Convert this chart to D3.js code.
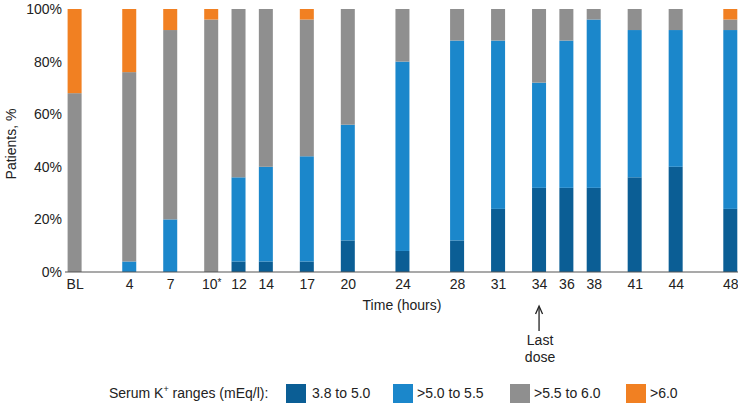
<!DOCTYPE html>
<html>
<head>
<meta charset="utf-8">
<script src="https://cdn.jsdelivr.net/npm/d3@7"></script>
<style>
  body { margin: 0; background: #fff; }
  svg { display: block; font-family: "Liberation Sans", Arial, sans-serif; }
  .axis text { font-size: 14px; fill: #222; }
</style>
</head>
<body>
<div id="chart"></div>
<script>
//Data
const times = [0, 4, 7, 10, 12, 14, 17, 20, 24, 28, 31, 34, 36, 38, 41, 44, 48];
const timeLabels = ['BL', '4', '7', '10*', '12', '14', '17', '20', '24', '28', '31', '34', '36', '38', '41', '44', '48'];
const range38to50 = [0, 0, 0, 0, 4, 4, 4, 12, 8, 12, 24, 32, 32, 32, 36, 40, 24];
const range50to55 = [0, 4, 20, 0, 32, 36, 40, 44, 72, 76, 64, 40, 56, 64, 56, 52, 68];
const range55to60 = [68, 72, 72, 96, 64, 60, 52, 44, 20, 12, 12, 28, 12, 4, 8, 8, 4];
const rangeAbove60 = [32, 24, 8, 4, 0, 0, 4, 0, 0, 0, 0, 0, 0, 0, 0, 0, 4];
const seriesKeys = ['k1', 'k2', 'k3', 'k4'];
const seriesLabels = ['3.8 to 5.0', '>5.0 to 5.5', '>5.5 to 6.0', '>6.0'];
const seriesColors = ['#0b5e95', '#1b87cb', '#8f8f8f', '#f18022'];
const yTicks = [0, 20, 40, 60, 80, 100];
const lastDoseTime = 34;

const rows = times.map((t, i) => ({
  t, label: timeLabels[i],
  k1: range38to50[i], k2: range50to55[i], k3: range55to60[i], k4: rangeAbove60[i]
}));

//Layout
const W = 738, H = 405;
const plotTop = 9, plotBottom = 272;
const barW = 14;

const svg = d3.select('#chart').append('svg').attr('width', W).attr('height', H);

const x = d3.scaleLinear().domain([0, 48]).range([74.6, 730.3]);
const y = d3.scaleLinear().domain([0, 100]).range([plotBottom, plotTop]);
const color = d3.scaleOrdinal().domain(seriesKeys).range(seriesColors);

// Stacked bars
const stacked = d3.stack().keys(seriesKeys)(rows);
svg.append('g')
  .selectAll('g')
  .data(stacked)
  .join('g')
  .attr('fill', d => color(d.key))
  .selectAll('rect')
  .data(d => d.filter(s => s[1] > s[0]))
  .join('rect')
  .attr('x', d => x(d.data.t) - barW / 2)
  .attr('y', d => y(d[1]))
  .attr('width', barW)
  .attr('height', d => y(d[0]) - y(d[1]));

// Y axis
svg.append('g').attr('class', 'axis')
  .attr('transform', 'translate(62,0)')
  .call(d3.axisLeft(y).tickValues(yTicks).tickSize(0).tickPadding(0).tickFormat(d => d + '%'))
  .call(g => g.select('.domain').remove());

// Baseline
svg.append('line')
  .attr('x1', 65).attr('x2', W)
  .attr('y1', y(0)).attr('y2', y(0))
  .attr('stroke', '#555').attr('stroke-width', 1.2);

// X axis
const xAxis = svg.append('g').attr('class', 'axis')
  .attr('transform', `translate(0,${y(0)})`)
  .call(d3.axisBottom(x).tickValues(times).tickSize(0).tickPadding(7)
    .tickFormat((d, i) => timeLabels[i]))
  .call(g => g.select('.domain').remove());

// superscript-style asterisk on 10*
xAxis.selectAll('.tick text')
  .filter(d => timeLabels[times.indexOf(d)].endsWith('*'))
  .each(function(d) {
    const t = d3.select(this);
    const base = timeLabels[times.indexOf(d)].replace('*', '');
    t.text(base);
    t.append('tspan').attr('font-size', 10).attr('dy', -3).text('*');
  });

// Axis titles
svg.append('text')
  .attr('transform', 'translate(16,144) rotate(-90)')
  .attr('text-anchor', 'middle')
  .attr('font-size', 14).attr('fill', '#222')
  .text('Patients, %');

svg.append('text')
  .attr('x', 402).attr('y', 310)
  .attr('text-anchor', 'middle')
  .attr('font-size', 14).attr('fill', '#222')
  .text('Time (hours)');

// Last dose arrow
const ax = x(lastDoseTime);
svg.append('line')
  .attr('x1', ax).attr('x2', ax).attr('y1', 308).attr('y2', 331)
  .attr('stroke', '#222').attr('stroke-width', 1.3);
svg.append('path')
  .attr('d', `M${ax - 3.5},${314} L${ax},${306} L${ax + 3.5},${314}`)
  .attr('fill', 'none').attr('stroke', '#222').attr('stroke-width', 1.3);
svg.append('text')
  .attr('x', ax + 1).attr('y', 345)
  .attr('text-anchor', 'middle')
  .attr('font-size', 14).attr('fill', '#222')
  .text('Last');
svg.append('text')
  .attr('x', ax + 1).attr('y', 362)
  .attr('text-anchor', 'middle')
  .attr('font-size', 14).attr('fill', '#222')
  .text('dose');

// Legend
const legend = svg.append('g').attr('font-size', 14).attr('fill', '#222');
const legTitle = legend.append('text').attr('x', 109).attr('y', 398);
legTitle.append('tspan').text('Serum K');
legTitle.append('tspan').attr('font-size', 9).attr('dy', -6).text('+');
legTitle.append('tspan').attr('dy', 6).text(' ranges (mEq/l):');

const swatchX = [286, 393, 510, 626];
seriesKeys.forEach((k, i) => {
  legend.append('rect')
    .attr('x', swatchX[i]).attr('y', 384)
    .attr('width', 20).attr('height', 19)
    .attr('fill', color(k));
  legend.append('text')
    .attr('x', swatchX[i] + (i === 0 ? 26 : 24)).attr('y', 398)
    .text(seriesLabels[i]);
});
</script>
</body>
</html>
